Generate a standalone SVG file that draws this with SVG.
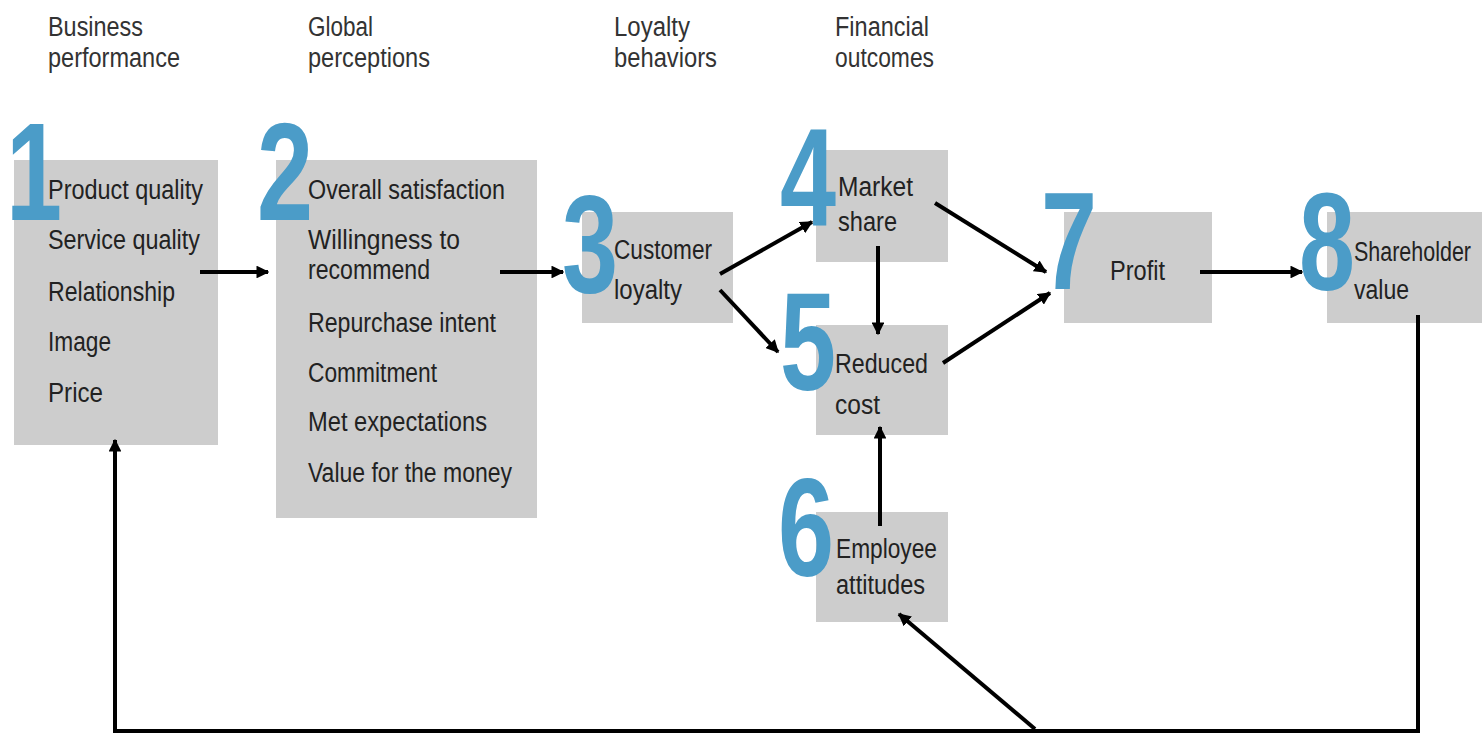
<svg xmlns="http://www.w3.org/2000/svg" width="1482" height="735" viewBox="0 0 1482 735">
  <style>
    .box { fill: #cdcdcd; }
    .num { font-family: "Liberation Sans", Arial, sans-serif; font-weight: bold; font-size: 140px; fill: #4b9cc8; text-anchor: middle; }
    .lbl { font-family: "Liberation Sans", Arial, sans-serif; font-size: 27px; fill: #222; }
    .hdr { font-family: "Liberation Sans", Arial, sans-serif; font-size: 27px; fill: #333; }
    .edge { stroke: #000; stroke-width: 4; fill: none; }
  </style>
  <defs>
    <marker id="arrow" viewBox="0 0 10 10" refX="9" refY="5" markerWidth="3.2" markerHeight="3.2" orient="auto" markerUnits="strokeWidth">
      <path d="M0,0 L10,5 L0,10 z" fill="#000"/>
    </marker>
  </defs>
  <rect width="1482" height="735" fill="#fff"/>

  <!-- column headings -->
  <g id="headers">
    <text class="hdr" x="48" y="36" textLength="95" lengthAdjust="spacingAndGlyphs">Business</text>
    <text class="hdr" x="48" y="67" textLength="132" lengthAdjust="spacingAndGlyphs">performance</text>
    <text class="hdr" x="308" y="36" textLength="65" lengthAdjust="spacingAndGlyphs">Global</text>
    <text class="hdr" x="308" y="67" textLength="122" lengthAdjust="spacingAndGlyphs">perceptions</text>
    <text class="hdr" x="614" y="36" textLength="76" lengthAdjust="spacingAndGlyphs">Loyalty</text>
    <text class="hdr" x="614" y="67" textLength="103" lengthAdjust="spacingAndGlyphs">behaviors</text>
    <text class="hdr" x="835" y="36" textLength="94" lengthAdjust="spacingAndGlyphs">Financial</text>
    <text class="hdr" x="835" y="67" textLength="99" lengthAdjust="spacingAndGlyphs">outcomes</text>
  </g>

  <g id="node1">
    <rect class="box" x="14" y="160" width="204" height="285"/>
    <text class="lbl" x="48" y="199" textLength="155" lengthAdjust="spacingAndGlyphs">Product quality</text>
    <text class="lbl" x="48" y="249" textLength="152" lengthAdjust="spacingAndGlyphs">Service quality</text>
    <text class="lbl" x="48" y="301" textLength="127" lengthAdjust="spacingAndGlyphs">Relationship</text>
    <text class="lbl" x="48" y="351" textLength="63" lengthAdjust="spacingAndGlyphs">Image</text>
    <text class="lbl" x="48" y="402" textLength="55" lengthAdjust="spacingAndGlyphs">Price</text>
    <text class="num" transform="translate(34,220) scale(0.72,1)">1</text>
  </g>

  <g id="node2">
    <rect class="box" x="276" y="160" width="261" height="358"/>
    <text class="lbl" x="308" y="199" textLength="197" lengthAdjust="spacingAndGlyphs">Overall satisfaction</text>
    <text class="lbl" x="308" y="249" textLength="152" lengthAdjust="spacingAndGlyphs">Willingness to</text>
    <text class="lbl" x="308" y="279" textLength="122" lengthAdjust="spacingAndGlyphs">recommend</text>
    <text class="lbl" x="308" y="332" textLength="188" lengthAdjust="spacingAndGlyphs">Repurchase intent</text>
    <text class="lbl" x="308" y="382" textLength="129" lengthAdjust="spacingAndGlyphs">Commitment</text>
    <text class="lbl" x="308" y="431" textLength="179" lengthAdjust="spacingAndGlyphs">Met expectations</text>
    <text class="lbl" x="308" y="482" textLength="204" lengthAdjust="spacingAndGlyphs">Value for the money</text>
    <text class="num" transform="translate(285,220) scale(0.72,1)">2</text>
  </g>

  <g id="node3">
    <rect class="box" x="582" y="212" width="151" height="111"/>
    <text class="lbl" x="614" y="259" textLength="98" lengthAdjust="spacingAndGlyphs">Customer</text>
    <text class="lbl" x="614" y="299" textLength="68" lengthAdjust="spacingAndGlyphs">loyalty</text>
    <text class="num" transform="translate(590,292) scale(0.72,1)">3</text>
  </g>

  <g id="node4">
    <rect class="box" x="816" y="150" width="132" height="112"/>
    <text class="lbl" x="838" y="196" textLength="75" lengthAdjust="spacingAndGlyphs">Market</text>
    <text class="lbl" x="838" y="231" textLength="59" lengthAdjust="spacingAndGlyphs">share</text>
    <text class="num" transform="translate(808,226) scale(0.72,1)">4</text>
  </g>

  <g id="node5">
    <rect class="box" x="816" y="325" width="132" height="110"/>
    <text class="lbl" x="835" y="373" textLength="93" lengthAdjust="spacingAndGlyphs">Reduced</text>
    <text class="lbl" x="835" y="414" textLength="45" lengthAdjust="spacingAndGlyphs">cost</text>
    <text class="num" transform="translate(808,390) scale(0.72,1)">5</text>
  </g>

  <g id="node6">
    <rect class="box" x="816" y="512" width="132" height="110"/>
    <text class="lbl" x="836" y="558" textLength="101" lengthAdjust="spacingAndGlyphs">Employee</text>
    <text class="lbl" x="836" y="594" textLength="89" lengthAdjust="spacingAndGlyphs">attitudes</text>
    <text class="num" transform="translate(806,576) scale(0.72,1)">6</text>
  </g>

  <g id="node7">
    <rect class="box" x="1064" y="212" width="148" height="111"/>
    <text class="lbl" x="1110" y="280" textLength="55" lengthAdjust="spacingAndGlyphs">Profit</text>
    <text class="num" transform="translate(1069,289) scale(0.72,1)">7</text>
  </g>

  <g id="node8">
    <rect class="box" x="1327" y="212" width="155" height="111"/>
    <text class="lbl" x="1354" y="261" textLength="117" lengthAdjust="spacingAndGlyphs">Shareholder</text>
    <text class="lbl" x="1354" y="299" textLength="55" lengthAdjust="spacingAndGlyphs">value</text>
    <text class="num" transform="translate(1327,290) scale(0.72,1)">8</text>
  </g>

  <!-- connectors, drawn over the boxes so their tails show inside them -->
  <g id="connectors">
    <line class="edge" x1="200" y1="272" x2="268" y2="272" marker-end="url(#arrow)"/>
    <line class="edge" x1="500" y1="272" x2="563" y2="272" marker-end="url(#arrow)"/>
    <line class="edge" x1="720" y1="274" x2="812" y2="222" marker-end="url(#arrow)"/>
    <line class="edge" x1="720" y1="290" x2="778" y2="352" marker-end="url(#arrow)"/>
    <line class="edge" x1="878" y1="246" x2="878" y2="334" marker-end="url(#arrow)"/>
    <line class="edge" x1="935" y1="203" x2="1046" y2="272" marker-end="url(#arrow)"/>
    <line class="edge" x1="943" y1="363" x2="1050" y2="293" marker-end="url(#arrow)"/>
    <line class="edge" x1="880" y1="526" x2="880" y2="427" marker-end="url(#arrow)"/>
    <line class="edge" x1="1200" y1="272" x2="1302" y2="272" marker-end="url(#arrow)"/>
    <polyline class="edge" points="1418,315 1418,731 115,731 115,440" marker-end="url(#arrow)"/>
    <line class="edge" x1="1035" y1="729" x2="899" y2="614" marker-end="url(#arrow)"/>
  </g>
</svg>
